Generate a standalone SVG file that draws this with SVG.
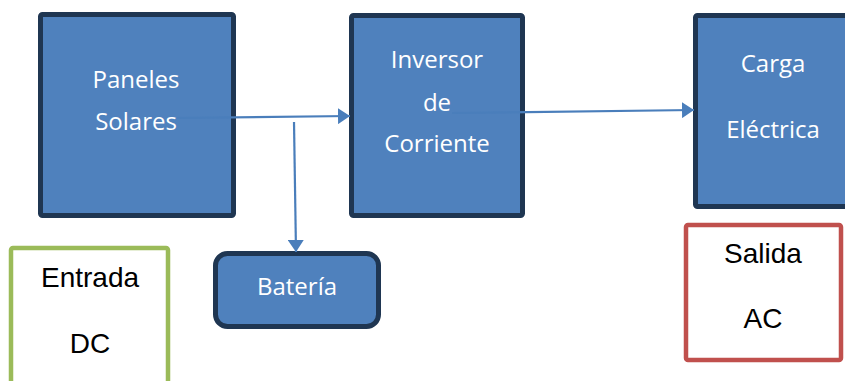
<svg xmlns="http://www.w3.org/2000/svg" width="845" height="381" viewBox="0 0 845 381">
  <style>
    .block { fill: #4F81BD; stroke: #1F3652; stroke-width: 5; }
    .label { font-family: "Open Sans", "Noto Sans", sans-serif; font-size: 24px; fill: #FFFFFF; text-anchor: middle; }
    .note { font-family: "Liberation Sans", Arial, sans-serif; font-size: 28px; fill: #000000; text-anchor: middle; }
    .link { fill: none; stroke: #4A7EBB; stroke-width: 2.2; }
  </style>
  <defs>
    <marker id="arrow" viewBox="0 0 12 16" refX="12" refY="8" markerWidth="12" markerHeight="16" markerUnits="userSpaceOnUse" orient="auto">
      <path d="M0,0 L12,8 L0,16 Z" fill="#4A7EBB"/>
    </marker>
  </defs>

  <rect width="845" height="381" fill="#FFFFFF"/>

  <g id="paneles">
    <rect class="block" x="40.5" y="14.5" width="193" height="201" rx="2"/>
    <text class="label" x="136" y="88">Paneles</text>
    <text class="label" x="136" y="130">Solares</text>
  </g>

  <g id="inversor">
    <rect class="block" x="351.5" y="15.5" width="171" height="200" rx="2"/>
    <text class="label" x="437" y="68">Inversor</text>
    <text class="label" x="437" y="111">de</text>
    <text class="label" x="437" y="152">Corriente</text>
  </g>

  <g id="carga">
    <rect class="block" x="695.5" y="15.5" width="160" height="191" rx="2"/>
    <text class="label" x="773" y="72">Carga</text>
    <text class="label" x="773" y="138">Eléctrica</text>
  </g>

  <g id="bateria">
    <rect class="block" x="215.5" y="253.5" width="163" height="73" rx="12"/>
    <text class="label" x="297" y="295">Batería</text>
  </g>

  <g id="entrada-dc">
    <rect x="11" y="248" width="157" height="150" rx="2" fill="#FFFFFF" stroke="#9BBB59" stroke-width="4.5"/>
    <text class="note" x="90" y="287">Entrada</text>
    <text class="note" x="90" y="353">DC</text>
  </g>

  <g id="salida-ac">
    <rect x="686" y="225" width="155" height="135" rx="2" fill="#FFFFFF" stroke="#C0504D" stroke-width="4.5"/>
    <text class="note" x="763" y="263">Salida</text>
    <text class="note" x="763" y="328">AC</text>
  </g>

  <g id="connectors">
    <line class="link" x1="177" y1="118" x2="350" y2="116" marker-end="url(#arrow)"/>
    <line class="link" x1="452" y1="113" x2="694" y2="110" marker-end="url(#arrow)"/>
    <line class="link" x1="294" y1="122" x2="296" y2="252" marker-end="url(#arrow)"/>
  </g>
</svg>
